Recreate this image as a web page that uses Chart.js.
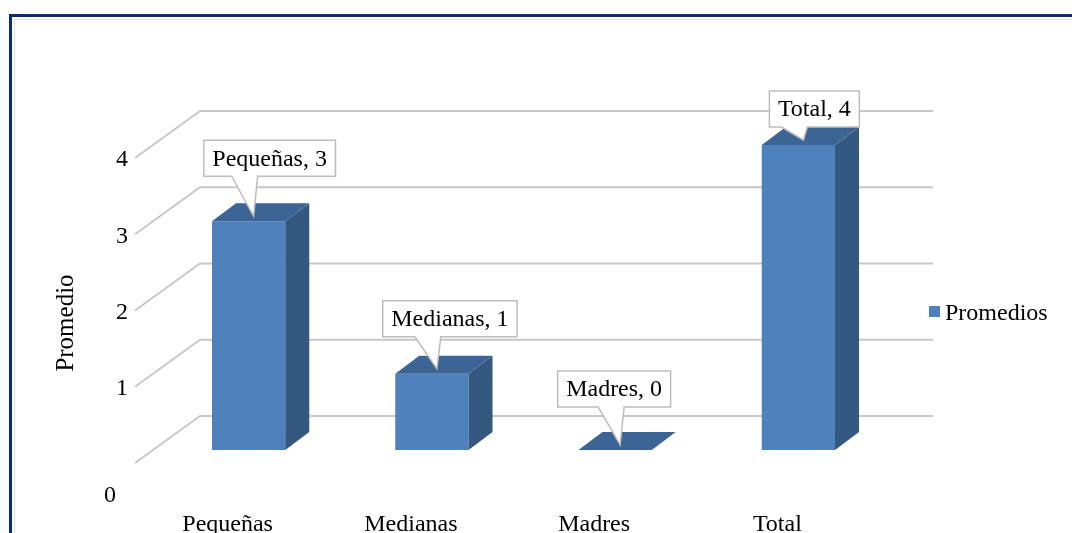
<!DOCTYPE html>
<html>
<head>
<meta charset="utf-8">
<script src="https://cdn.jsdelivr.net/npm/chart.js@4/dist/chart.umd.min.js"></script>
<style>
  html, body { margin: 0; padding: 0; background: #fff; overflow: hidden; }
  #frame {
    position: absolute; left: 9px; top: 14px; width: 1100px; height: 600px;
    border-left: 3px solid #0c2b6e; border-top: 3px solid #0c2b6e;
  }
  #frame::after {
    content: ''; position: absolute; left: 2px; top: 2px; right: 0; bottom: 0;
    border-left: 1px solid #dedede; border-top: 1px solid #dedede;
  }
  #wrap { position: absolute; left: 0; top: 0; width: 1072px; height: 533px; }
</style>
</head>
<body>
<div id="frame"></div>
<div id="wrap"><canvas id="myChart"></canvas></div>
<script>
const categories = ['Pequeñas', 'Medianas', 'Madres', 'Total'];
const promedios = [3, 1, 0, 4];
const yTicks = [0, 1, 2, 3, 4];
const seriesName = 'Promedios';
const axisTitle = 'Promedio';

// where Excel put each callout: box centre offset from bar centre, gap above bar top
const calloutShiftX = [21, 18, -1, 16];
const calloutLift = [45, 37, 43, 18];

const FONT = '"Liberation Serif", "Times New Roman", serif';
const FRONT = '#4F81BD';
const TOP = '#3C6595';
const SIDE = '#34587F';
const GRID = '#c8c8c8';
const DEPTH = { dx: 24, dy: -18 };          // bar depth
const WALL_FRONT = { dx: -22, dy: 13 };      // front edge of the side wall
const WALL_BACK = { dx: 43, dy: -34 };       // back wall plane

function poly(ctx, pts) {
    ctx.beginPath();
    ctx.moveTo(pts[0][0], pts[0][1]);
    for (let k = 1; k < pts.length; k++) ctx.lineTo(pts[k][0], pts[k][1]);
    ctx.closePath();
    ctx.fill();
}

const scene3d = {
    id: 'scene3d',
    beforeDatasetsDraw(chart) {
        const { ctx, chartArea: a } = chart;
        const y = chart.scales.y;
        ctx.save();

        // walls: diagonal on the side wall + line along the back wall
        ctx.strokeStyle = GRID;
        ctx.lineWidth = 2;
        yTicks.forEach(v => {
            const py = y.getPixelForValue(v);
            ctx.beginPath();
            ctx.moveTo(a.left + WALL_FRONT.dx, py + WALL_FRONT.dy);
            ctx.lineTo(a.left + WALL_BACK.dx, py + WALL_BACK.dy);
            ctx.lineTo(a.right + WALL_BACK.dx, py + WALL_BACK.dy);
            ctx.stroke();
        });

        // value axis labels
        ctx.fillStyle = '#000';
        ctx.font = '24px ' + FONT;
        ctx.textAlign = 'right';
        ctx.textBaseline = 'middle';
        yTicks.forEach(v => {
            const py = y.getPixelForValue(v) + WALL_FRONT.dy;
            if (v === 0) {
                // Excel drops the 0 label below the floor
                ctx.fillText(String(v), a.left + WALL_FRONT.dx - 19, py + 33);
            } else {
                ctx.fillText(String(v), a.left + WALL_FRONT.dx - 7, py + 2);
            }
        });

        // axis title
        ctx.save();
        ctx.translate(66, a.bottom - 127);
        ctx.rotate(-Math.PI / 2);
        ctx.textAlign = 'center';
        ctx.font = '25px ' + FONT;
        ctx.fillText(axisTitle, 0, 0);
        ctx.restore();

        // legend
        ctx.fillStyle = FRONT;
        ctx.fillRect(a.right + 39, 306, 11, 11);
        ctx.fillStyle = '#000';
        ctx.textAlign = 'left';
        ctx.font = '24px ' + FONT;
        ctx.fillText(seriesName, a.right + 55, 314);

        ctx.restore();
    },
    afterDatasetsDraw(chart) {
        const { ctx } = chart;
        const meta = chart.getDatasetMeta(0);
        ctx.save();

        meta.data.forEach((bar, i) => {
            const p = bar.getProps(['x', 'y', 'base', 'width'], true);
            const l = p.x - p.width / 2, r = p.x + p.width / 2;
            if (p.base - p.y > 0.5) {
                ctx.fillStyle = SIDE;
                poly(ctx, [[r, p.y], [r + DEPTH.dx, p.y + DEPTH.dy], [r + DEPTH.dx, p.base + DEPTH.dy], [r, p.base]]);
            }
            ctx.fillStyle = TOP;
            poly(ctx, [[l, p.y], [l + DEPTH.dx, p.y + DEPTH.dy], [r + DEPTH.dx, p.y + DEPTH.dy], [r, p.y]]);
        });

        // callouts
        ctx.font = '24px ' + FONT;
        meta.data.forEach((bar, i) => {
            const p = bar.getProps(['x', 'y'], true);
            const text = categories[i] + ', ' + promedios[i];
            const bw = ctx.measureText(text).width + 17;
            const bh = 36;
            const cx = p.x + calloutShiftX[i];
            const bottom = p.y - calloutLift[i];
            const tipX = p.x + 5, tipY = p.y - 5;

            ctx.beginPath();
            ctx.moveTo(cx - bw / 2, bottom - bh);
            ctx.lineTo(cx + bw / 2, bottom - bh);
            ctx.lineTo(cx + bw / 2, bottom);
            ctx.lineTo(tipX + 4, bottom);
            ctx.lineTo(tipX, tipY);
            ctx.lineTo(tipX - 22, bottom);
            ctx.lineTo(cx - bw / 2, bottom);
            ctx.closePath();
            ctx.fillStyle = '#fff';
            ctx.fill();
            ctx.strokeStyle = '#bdbdbd';
            ctx.lineWidth = 1.5;
            ctx.stroke();

            ctx.fillStyle = '#000';
            ctx.textAlign = 'center';
            ctx.textBaseline = 'middle';
            ctx.fillText(text, cx, bottom - bh / 2 + 1);
        });

        ctx.restore();
    }
};

const ctx = document.getElementById('myChart').getContext('2d');

new Chart(ctx, {
    type: 'bar',
    data: {
        labels: categories,
        datasets: [{
            label: seriesName,
            data: promedios,
            backgroundColor: FRONT,
            borderWidth: 0,
            barPercentage: 0.4,
            categoryPercentage: 1
        }]
    },
    options: {
        responsive: true,
        maintainAspectRatio: false,
        animation: false,
        events: [],
        layout: { padding: { left: 157, right: 182, top: 145, bottom: 0 } },
        plugins: {
            legend: { display: false },
            tooltip: { enabled: false }
        },
        scales: {
            x: {
                grid: { display: false, drawTicks: false },
                border: { display: false },
                afterFit: s => { s.height = 83; },
                ticks: {
                    color: '#000',
                    font: { family: FONT, size: 24 },
                    labelOffset: -21,
                    padding: 60,
                    maxRotation: 0
                }
            },
            y: {
                display: false,
                min: 0,
                max: 4
            }
        }
    },
    plugins: [scene3d]
});
</script>
</body>
</html>
